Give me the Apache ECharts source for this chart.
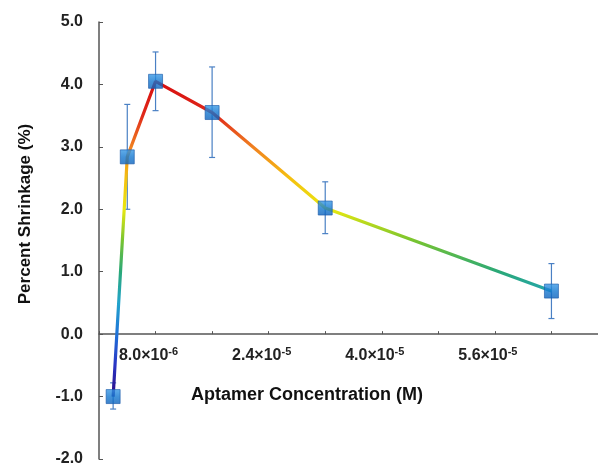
<!DOCTYPE html>
<html>
<head>
<meta charset="utf-8">
<script src="https://cdn.jsdelivr.net/npm/echarts@6/dist/echarts.min.js"></script>
<style>html,body{margin:0;padding:0;background:#fff;}#c{width:598px;height:464px;}</style>
</head>
<body>
<div id="c"></div>
<script>
// Data
const concentrations = [2e-6, 4e-6, 8e-6, 1.6e-5, 3.2e-5, 6.4e-5];
const shrinkage = [-1.0, 2.84, 4.05, 3.55, 2.02, 0.69];
const errLow = [0.2, 0.84, 0.47, 0.72, 0.41, 0.44];
const errHigh = [0.22, 0.84, 0.47, 0.73, 0.42, 0.44];
const xTickLabels = {"8e-6": ["8.0×10", "-6"], "2.4e-5": ["2.4×10", "-5"], "4e-5": ["4.0×10", "-5"], "5.6e-5": ["5.6×10", "-5"]};
const yTicks = [-2, -1, 0, 1, 2, 3, 4, 5];

const FONT = "'Liberation Sans', Arial, sans-serif";
const lineData = concentrations.map((x, i) => [x, shrinkage[i]]);
const errData = concentrations.map((x, i) => [x, shrinkage[i] - errLow[i], shrinkage[i] + errHigh[i]]);

function labelFor(v) {
  for (const k in xTickLabels) {
    if (Math.abs(v - Number(k)) < 1e-9) return xTickLabels[k];
  }
  return null;
}

const GRID_TOP = 22, GRID_BOTTOM = 5, H = 464;
const yMin = yTicks[0], yMax = yTicks[yTicks.length - 1];
// place the x axis at value 0 (move it up from the grid bottom)
const plotH = H - GRID_TOP - GRID_BOTTOM;
const zeroOffset = -plotH * (0 - yMin) / (yMax - yMin);

const chart = echarts.init(document.getElementById('c'), null, {renderer: 'canvas'});
chart.setOption({
  animation: false,
  backgroundColor: '#fff',
  grid: {left: 99, top: GRID_TOP, right: -10, bottom: GRID_BOTTOM, containLabel: false, outerBoundsMode: 'none'},
  xAxis: {
    type: 'value', min: 0, max: 7.2e-5, interval: 8e-6,
    offset: zeroOffset,
    axisLine: {onZero: false, lineStyle: {color: '#555', width: 1.5}},
    axisTick: {show: true, inside: true, length: 3, lineStyle: {color: '#555'}},
    splitLine: {show: false},
    axisLabel: {
      margin: 12,
      padding: [0, 14, 0, 0],
      formatter: function (v) {
        const l = labelFor(v);
        return l ? '{a|' + l[0] + '}{s|' + l[1] + '}' : '';
      },
      rich: {
        a: {fontFamily: FONT, fontWeight: 'bold', fontSize: 16, color: '#222'},
        s: {fontFamily: FONT, fontWeight: 'bold', fontSize: 11, color: '#222', verticalAlign: 'top', padding: [0, 0, 7, 0]}
      }
    }
  },
  yAxis: {
    type: 'value', min: yMin, max: yMax, interval: 1,
    axisLine: {show: true, onZero: false, lineStyle: {color: '#555', width: 1.5}},
    axisTick: {show: true, inside: true, length: 4, lineStyle: {color: '#555'}},
    splitLine: {show: false},
    axisLabel: {
      margin: 16,
      fontFamily: FONT, fontWeight: 'bold', fontSize: 16, color: '#222',
      formatter: v => v.toFixed(1)
    }
  },
  visualMap: {
    type: 'continuous', show: false, seriesIndex: 1, dimension: 1,
    min: -1, max: 4,
    inRange: {color: ['#2b0b82', '#2a34c4', '#1f72d8', '#22a4cc', '#2aa878', '#78c430', '#e8e810', '#f5c010', '#f08020', '#e02a1a', '#d81010']}
  },
  series: [
    {
      type: 'custom', z: 1,
      data: errData,
      renderItem: function (params, api) {
        const top = api.coord([api.value(0), api.value(2)]);
        const bot = api.coord([api.value(0), api.value(1)]);
        const w = 3;
        const st = {stroke: '#4a80c4', lineWidth: 1.2};
        return {
          type: 'group',
          children: [
            {type: 'line', shape: {x1: top[0], y1: top[1], x2: bot[0], y2: bot[1]}, style: st},
            {type: 'line', shape: {x1: top[0] - w, y1: top[1], x2: top[0] + w, y2: top[1]}, style: st},
            {type: 'line', shape: {x1: bot[0] - w, y1: bot[1], x2: bot[0] + w, y2: bot[1]}, style: st}
          ]
        };
      }
    },
    {
      type: 'line', z: 2, data: lineData, symbol: 'none',
      lineStyle: {width: 3.2}
    },
    {
      type: 'scatter', z: 3, data: lineData, symbol: 'rect', symbolSize: 14,
      itemStyle: {
        color: new echarts.graphic.LinearGradient(0, 0, 0, 1, [
          {offset: 0, color: '#3a9ae6'}, {offset: 0.5, color: '#1478d0'}, {offset: 1, color: '#0c62bc'}
        ]),
        borderColor: '#1a5aa8', borderWidth: 0.8
      }
    }
  ],
  graphic: [
    {
      type: 'text', x: 25, y: 214, rotation: Math.PI / 2,
      style: {text: 'Percent Shrinkage (%)', fontFamily: FONT, fontWeight: 'bold', fontSize: 17, fill: '#111', textAlign: 'center', textVerticalAlign: 'middle'}
    },
    {
      type: 'text', x: 307, y: 395,
      style: {text: 'Aptamer Concentration (M)', fontFamily: FONT, fontWeight: 'bold', fontSize: 18, fill: '#111', textAlign: 'center', textVerticalAlign: 'middle'}
    }
  ]
});
</script>
</body>
</html>
